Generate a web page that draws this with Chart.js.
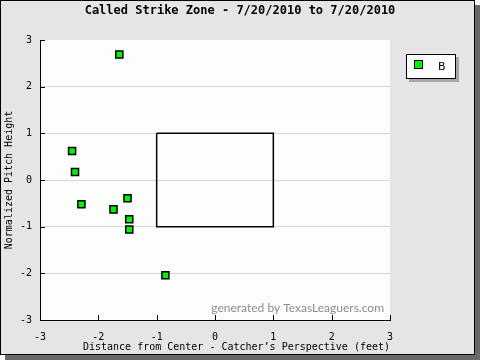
<!DOCTYPE html>
<html>
<head>
<meta charset="utf-8">
<script src="https://cdn.jsdelivr.net/npm/chart.js@4"></script>
<style>
  html, body { margin: 0; padding: 0; background: #fff; }
  canvas { display: block; }
</style>
</head>
<body>
<canvas id="mycanvas" width="480" height="360"></canvas>
<script>
// called pitches, catcher's view (feet)
var pitchX = [-1.64, -2.45, -2.40, -2.29, -1.74, -1.50, -1.47, -1.47, -0.85];
var pitchZ = [2.69, 0.62, 0.17, -0.52, -0.63, -0.39, -0.84, -1.06, -2.04];
// normalized strike zone box
var zoneX = [-1, 1, 1, -1, -1];
var zoneZ = [1, 1, -1, -1, 1];
var tickVals = [-3, -2, -1, 0, 1, 2, 3];
var seriesName = "B";

var pitches = [];
for (var i = 0; i < pitchX.length; i++) {
  pitches.push({x: pitchX[i], y: pitchZ[i]});
}
var zone = [];
for (var j = 0; j < zoneX.length; j++) {
  zone.push({x: zoneX[j], y: zoneZ[j]});
}

var mono = "'DejaVu Sans Mono', monospace";
var green = "#00f000";

// frame, shadow, plot background, inner ticks, legend box, watermark
var decor = {
  id: "decor",
  beforeDraw: function(chart) {
    var c = chart.ctx, a = chart.chartArea;
    c.save();
    c.fillStyle = "#ffffff";
    c.fillRect(0, 0, 480, 360);
    c.fillStyle = "#686868";
    c.fillRect(5, 5, 475, 355);
    c.fillStyle = "#e5e5e5";
    c.fillRect(0, 0, 475, 355);
    c.strokeStyle = "#000";
    c.lineWidth = 1;
    c.strokeRect(0.5, 0.5, 474, 354);
    c.fillStyle = "#fcfefc";
    c.fillRect(a.left, a.top, a.right - a.left, a.bottom - a.top);
    c.restore();
  },
  afterDraw: function(chart) {
    var c = chart.ctx, a = chart.chartArea;
    var xs = chart.scales.x, ys = chart.scales.y;
    c.save();
    c.strokeStyle = "#000";
    c.lineWidth = 1;
    c.beginPath();
    tickVals.forEach(function(v) {
      var px = Math.round(xs.getPixelForValue(v)) + 0.5;
      c.moveTo(px, a.bottom);
      c.lineTo(px, a.bottom - 5);
      var py = Math.round(ys.getPixelForValue(v)) + 0.5;
      c.moveTo(a.left, py);
      c.lineTo(a.left + 5, py);
    });
    c.stroke();

    // legend
    c.fillStyle = "#a8a8a8";
    c.fillRect(409, 57, 50, 25);
    c.fillStyle = "#ffffff";
    c.fillRect(406, 54, 50, 25);
    c.strokeStyle = "#000";
    c.strokeRect(406.5, 54.5, 49, 24);
    c.fillStyle = green;
    c.fillRect(414.5, 60.5, 8, 8);
    c.strokeRect(414.5, 60.5, 8, 8);
    c.fillStyle = "#000";
    c.font = "11px 'DejaVu Sans', sans-serif";
    c.textAlign = "left";
    c.textBaseline = "middle";
    c.fillText(seriesName, 438, 67);

    // watermark
    c.fillStyle = "#8c8c8c";
    c.font = "12px Lato, sans-serif";
    c.textAlign = "right";
    c.textBaseline = "middle";
    c.fillText("generated by TexasLeaguers.com", 384, 308);
    c.restore();
  }
};

new Chart(document.getElementById("mycanvas"), {
  type: "scatter",
  data: {
    datasets: [
      {
        label: seriesName,
        data: pitches,
        pointStyle: "rect",
        pointRadius: 5,
        pointHoverRadius: 5,
        backgroundColor: green,
        borderColor: "#000",
        borderWidth: 1.5
      },
      {
        label: "zone",
        data: zone,
        showLine: true,
        pointRadius: 0,
        borderColor: "#000",
        borderWidth: 1.5,
        fill: false
      }
    ]
  },
  options: {
    responsive: false,
    animation: false,
    layout: { padding: 0 },
    plugins: {
      legend: { display: false },
      tooltip: { enabled: false },
      title: {
        display: true,
        text: "Called Strike Zone - 7/20/2010 to 7/20/2010",
        color: "#000",
        font: { family: mono, size: 12, weight: "bold" },
        padding: { top: 4, bottom: 21.6 }
      }
    },
    scales: {
      x: {
        type: "linear",
        min: -3,
        max: 3,
        afterFit: function(s) { s.height = 40; },
        afterBuildTicks: function(s) {
          s.ticks = tickVals.map(function(v) { return {value: v}; });
        },
        grid: { display: false },
        border: { display: true, color: "#000", width: 1 },
        ticks: { color: "#000", font: { family: mono, size: 10 }, padding: 3, maxRotation: 0 },
        title: {
          display: true,
          text: "Distance from Center - Catcher\u2019s Perspective (feet)",
          align: "end",
          color: "#000",
          font: { family: mono, size: 10 },
          padding: { top: 0, bottom: 7 }
        }
      },
      y: {
        type: "linear",
        min: -3,
        max: 3,
        afterFit: function(s) { s.width = 40; },
        afterBuildTicks: function(s) {
          s.ticks = tickVals.map(function(v) { return {value: v}; });
        },
        grid: {
          drawTicks: false,
          color: function(ctx) {
            var v = ctx.tick ? ctx.tick.value : 0;
            return (v === 3 || v === -3) ? "rgba(0,0,0,0)" : "#d6d6d6";
          }
        },
        border: { display: true, color: "#000", width: 1 },
        ticks: { color: "#000", font: { family: mono, size: 10 }, padding: 8 },
        title: {
          display: true,
          text: "Normalized Pitch Height",
          color: "#000",
          font: { family: mono, size: 10 },
          padding: { top: 3, bottom: 0 }
        }
      },
      pad: {
        type: "linear",
        axis: "y",
        position: "right",
        display: true,
        afterFit: function(s) { s.width = 90; },
        grid: { display: false },
        border: { display: false },
        ticks: { display: false }
      }
    }
  },
  plugins: [decor]
});
</script>
</body>
</html>
